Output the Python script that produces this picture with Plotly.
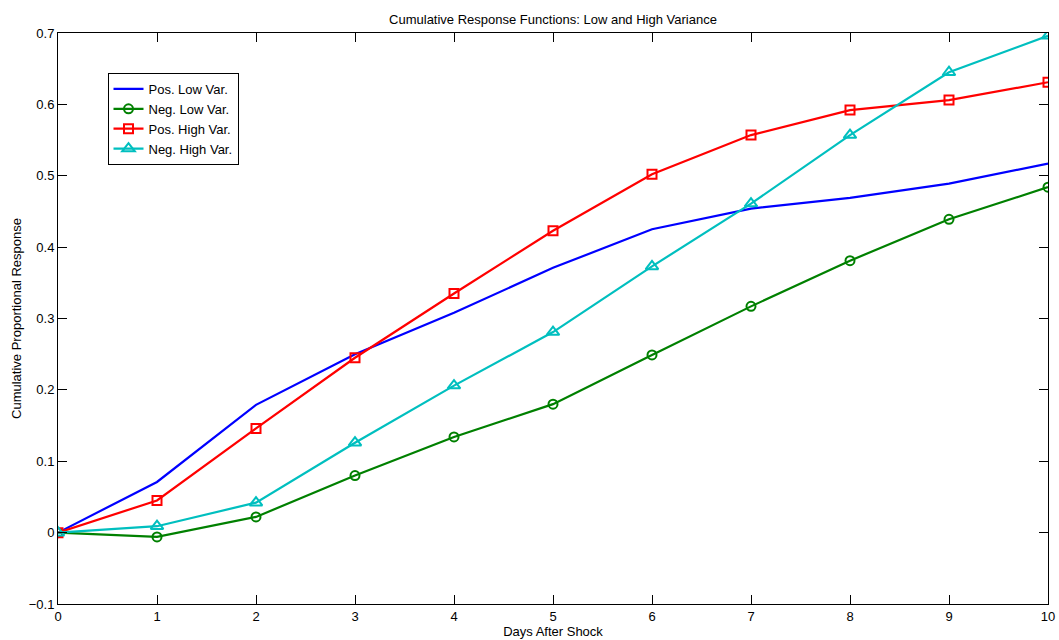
import plotly.graph_objects as go

days = list(range(11))
pos_low = [0, 0.071, 0.179, 0.250, 0.308, 0.371, 0.425, 0.454, 0.469, 0.489, 0.517]
neg_low = [0, -0.006, 0.022, 0.080, 0.134, 0.180, 0.249, 0.317, 0.381, 0.439, 0.484]
pos_high = [0, 0.045, 0.146, 0.245, 0.335, 0.423, 0.502, 0.557, 0.592, 0.606, 0.631]
neg_high = [0, 0.009, 0.042, 0.126, 0.206, 0.281, 0.373, 0.461, 0.557, 0.645, 0.696]

y_ticks = [-0.1, 0, 0.1, 0.2, 0.3, 0.4, 0.5, 0.6, 0.7]
y_labels = ["\u22120.1", "0", "0.1", "0.2", "0.3", "0.4", "0.5", "0.6", "0.7"]

FONT = "Liberation Sans, Arial, sans-serif"

fig = go.Figure()
fig.add_trace(go.Scatter(x=days, y=pos_low, mode="lines", name="Pos. Low Var.",
                         line=dict(color="#0000ff", width=2.2)))
fig.add_trace(go.Scatter(x=days, y=neg_low, mode="lines+markers", name="Neg. Low Var.",
                         line=dict(color="#008000", width=2.2),
                         marker=dict(symbol="circle-open", size=9, line=dict(width=2, color="#008000"))))
fig.add_trace(go.Scatter(x=days, y=pos_high, mode="lines+markers", name="Pos. High Var.",
                         line=dict(color="#ff0000", width=2.2),
                         marker=dict(symbol="square-open", size=9, line=dict(width=2, color="#ff0000"))))
fig.add_trace(go.Scatter(x=days, y=neg_high, mode="lines+markers", name="Neg. High Var.",
                         line=dict(color="#00bfbf", width=2.2),
                         marker=dict(symbol="triangle-up-open", size=11, line=dict(width=2, color="#00bfbf"))))

axis_common = dict(showgrid=False, zeroline=False, showline=True, linecolor="black", linewidth=1,
                   mirror="ticks", ticks="inside", ticklen=9, tickcolor="black", automargin=False,
                   tickfont=dict(size=13, color="black", family=FONT))

fig.update_layout(
    width=1059, height=640,
    margin=dict(l=58, r=11, t=33, b=36),
    paper_bgcolor="white", plot_bgcolor="white",
    font=dict(family=FONT, size=13, color="black"),
    title=dict(text="Cumulative Response Functions: Low and High Variance",
               xref="paper", x=0.5, xanchor="center", y=1 - 19 / 640, yanchor="middle",
               font=dict(size=13, color="black", family=FONT)),
    xaxis=dict(range=[0, 10], tickvals=days, ticktext=[str(d) for d in days],
               title=dict(text="Days After Shock", standoff=0, font=dict(size=13)), **axis_common),
    yaxis=dict(range=[-0.1, 0.7], tickvals=y_ticks, ticktext=y_labels,
               title=dict(text="Cumulative Proportional Response", standoff=4, font=dict(size=13)),
               **axis_common),
    legend=dict(x=0.05, y=0.93, xanchor="left", yanchor="top",
                bgcolor="white", bordercolor="black", borderwidth=1,
                font=dict(size=13, color="black", family=FONT), tracegroupgap=0),
    showlegend=True,
)

fig.write_html("out.html")
